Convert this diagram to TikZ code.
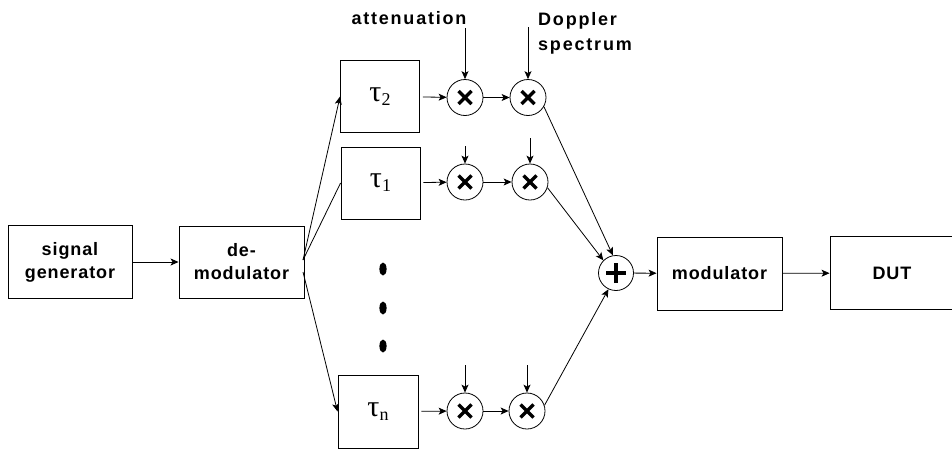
\documentclass[tikz,border=0pt]{standalone}
\usepackage{fontspec}
\setmainfont{Liberation Sans}
\newfontfamily\greekserif{Liberation Serif}
\usetikzlibrary{arrows.meta}
\begin{document}
\begin{tikzpicture}[x=1pt,y=-1pt,
  lbl/.style={font=\fontsize{18}{25}\selectfont\bfseries\addfontfeature{LetterSpace=10}, align=center, inner sep=0pt},
  blk/.style={draw, line width=0.9pt, inner sep=0pt, font=\fontsize{18}{23}\selectfont\bfseries\addfontfeature{LetterSpace=5}, align=center},
  tau/.style={draw, line width=0.9pt, inner sep=0pt, minimum width=79pt, minimum height=72pt, font=\greekserif\fontsize{30}{30}\selectfont},
  arr/.style={line width=0.8pt, -{Stealth[length=8pt,width=7pt,inset=2pt]}},
  ln/.style={line width=0.8pt},
  mult/.style={circle, draw, line width=0.8pt, minimum size=36pt, inner sep=0pt,
    path picture={\draw[line width=3.4pt]
      ([shift={(-6.5pt,-6.5pt)}]path picture bounding box.center) -- ([shift={(6.5pt,6.5pt)}]path picture bounding box.center)
      ([shift={(-6.5pt,6.5pt)}]path picture bounding box.center) -- ([shift={(6.5pt,-6.5pt)}]path picture bounding box.center);}},
  sumc/.style={circle, draw, line width=0.8pt, minimum size=35pt, inner sep=0pt,
    path picture={\draw[line width=3.2pt]
      ([shift={(-10pt,0pt)}]path picture bounding box.center) -- ([shift={(10pt,0pt)}]path picture bounding box.center)
      ([shift={(0pt,-10pt)}]path picture bounding box.center) -- ([shift={(0pt,10pt)}]path picture bounding box.center);}}
]
\useasboundingbox (0,0) rectangle (952,450);

\node[blk, minimum width=124pt, minimum height=73pt] (sg) at (70,262) {signal\\generator};
\node[blk, minimum width=125pt, minimum height=72pt] (dm) at (241.5,262) {de-\\modulator};
\node[tau] (t2) at (380,96.5) {τ\raisebox{-4pt}{\fontsize{18}{18}\selectfont 2}};
\node[tau] (t1) at (380.5,183) {τ\raisebox{-4pt}{\fontsize{18}{18}\selectfont 1}};
\node[tau, minimum width=80pt, minimum height=73pt] (tn) at (378,411.5) {τ\raisebox{-4pt}{\fontsize{18}{18}\selectfont n}};
\node[blk, minimum width=125pt, minimum height=73pt] (mod) at (719.5,273.5) {modulator};
\node[blk, minimum width=124pt, minimum height=73pt] (dut) at (892,273) {DUT};

\node[mult] (m21) at (465,97.5) {};
\node[mult] (m22) at (528,97.5) {};
\node[mult] (m11) at (465,182) {};
\node[mult] (m12) at (530,182) {};
\node[mult] (mn1) at (465,411) {};
\node[mult] (mn2) at (527,411) {};
\node[sumc] (sum) at (616,273) {};

\node[lbl] (att) at (409,18) {attenuation};
\node[lbl, align=left, anchor=west] (dop) at (538,33) {Doppler\\spectrum};

\fill (383,269) ellipse (3.6pt and 6.5pt);
\fill (383,308) ellipse (3.6pt and 6.5pt);
\fill (383,346) ellipse (3.6pt and 6.5pt);

\coordinate (f1) at (303,260);
\coordinate (f2) at (303,272);
\coordinate (v21) at (465,28);
\coordinate (v22) at (528,27);
\coordinate (v11) at (465,146);
\coordinate (v12) at (530,138);
\coordinate (vn1) at (465,365);
\coordinate (vn2) at (527,365);

\draw[arr] (sg) -- (dm);
\draw[arr] (f1) -- (t2.west);
\draw[ln] (f1) -- (t1.west);
\draw[arr] (f2) -- (tn.west);

\draw[arr, shorten <=3pt] (t2) -- (m21);
\draw[arr] (m21) -- (m22);
\draw[arr, shorten <=3pt] (t1) -- (m11);
\draw[arr] (m11) -- (m12);
\draw[arr, shorten <=3pt] (tn) -- (mn1);
\draw[arr] (mn1) -- (mn2);

\draw[arr] (v21) -- (m21);
\draw[arr] (v22) -- (m22);
\draw[arr] (v11) -- (m11);
\draw[arr] (v12) -- (m12);
\draw[arr] (vn1) -- (mn1);
\draw[arr] (vn2) -- (mn2);

\draw[arr] (m22.-30) -- (sum.100);
\draw[arr] (m12.-18) -- (sum.135);
\draw[arr] (mn2.18) -- (sum.245);

\draw[arr] (sum) -- (mod);
\draw[arr] (mod) -- (dut);
\end{tikzpicture}
\end{document}
